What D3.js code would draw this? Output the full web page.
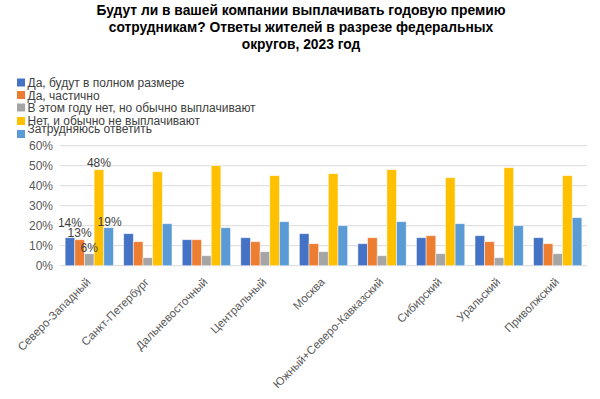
<!DOCTYPE html>
<html><head><meta charset="utf-8">
<script src="https://cdn.jsdelivr.net/npm/d3@7"></script>
<style>body{margin:0;background:#fff}svg{display:block;font-family:"Liberation Sans",Arial,sans-serif}</style>
</head><body><svg id="c" width="600" height="399"></svg>
<script>
const titleLines = ["Будут ли в вашей компании выплачивать годовую премию","сотрудникам? Ответы жителей в разрезе федеральных","округов, 2023 год"];
const categories = ["Северо-Западный","Санкт-Петербург","Дальневосточный","Центральный","Москва","Южный+Северо-Кавказский","Сибирский","Уральский","Приволжский"];
const seriesNames = ["Да, будут в полном размере","Да, частично","В этом году нет, но обычно выплачивают","Нет, и обычно не выплачивают","Затрудняюсь ответить"];
const colors = ["#4472C4","#ED7D31","#A5A5A5","#FFC000","#5B9BD5"];
const full      = [14,16,13,14,16,11,14,15,14];
const partial   = [13,12,13,12,11,14,15,12,11];
const notThisYr = [6,4,5,7,7,5,6,4,6];
const notUsual  = [48,47,50,45,46,48,44,49,45];
const hardToSay = [19,21,19,22,20,22,21,20,24];
const series = [full,partial,notThisYr,notUsual,hardToSay];
const yTicks = [0,10,20,30,40,50,60];

const svg = d3.select("#c");
const pL=60,pR=587,pT=145.7,pB=265.7;
const x = d3.scaleBand().domain(categories).range([pL,pR]).paddingInner(0.175).paddingOuter(0.0875);
const xs = d3.scaleBand().domain(d3.range(series.length)).range([0,x.bandwidth()]);
const y = d3.scaleLinear().domain([0,60]).range([pB,pT]);

// title
svg.append("g").selectAll("text").data(titleLines).join("text")
  .attr("x",301).attr("y",(d,i)=>15+i*17).attr("text-anchor","middle")
  .attr("font-size",13.8).attr("font-weight","bold").attr("fill","#000").text(d=>d);

// gridlines
svg.append("g").selectAll("line").data(yTicks).join("line")
  .attr("x1",pL).attr("x2",pR).attr("y1",d=>y(d)).attr("y2",d=>y(d))
  .attr("stroke","#D9D9D9").attr("stroke-width",1);

// y labels
svg.append("g").selectAll("text").data(yTicks).join("text")
  .attr("x",53).attr("y",d=>y(d)+4.5).attr("text-anchor","end")
  .attr("font-size",12).attr("fill","#595959").text(d=>d+"%");

// bars
const g = svg.append("g");
series.forEach((vals,si)=>{
  g.append("g").selectAll("rect").data(vals).join("rect")
    .attr("x",(d,i)=>x(categories[i])+xs(si))
    .attr("y",d=>y(d)).attr("width",xs.bandwidth()).attr("height",d=>y(0)-y(d))
    .attr("fill",colors[si]).attr("stroke","#fff").attr("stroke-opacity",0.6).attr("stroke-width",0.8);
});

// data labels for first category
const lblOff = [[0,-11],[0,-3],[0,-2],[0,-3],[1,-2]];
series.forEach((vals,si)=>{
  const cx = x(categories[0])+xs(si)+xs.bandwidth()/2;
  svg.append("text").attr("x",cx+lblOff[si][0]).attr("y",y(vals[0])+lblOff[si][1])
    .attr("text-anchor","middle").attr("font-size",12).attr("fill","#404040").text(vals[0]+"%");
});

// x labels
svg.append("g").selectAll("text").data(categories).join("text")
  .attr("transform",d=>`translate(${x(d)+x.bandwidth()/2+2},${pB+17}) rotate(-45)`)
  .attr("text-anchor","end").attr("font-size",11.5).attr("fill","#595959").text(d=>d);

// legend
const lg = svg.append("g");
const markerY=[78.5,91,103.5,117,130];
const textY=[87,99.5,112,124.5,133];
seriesNames.forEach((n,i)=>{
  lg.append("rect").attr("x",17).attr("y",markerY[i]).attr("width",8).attr("height",8).attr("fill",colors[i]);
  lg.append("text").attr("x",27.5).attr("y",textY[i]).attr("font-size",12).attr("fill","#404040").text(n);
});
</script></body></html>
